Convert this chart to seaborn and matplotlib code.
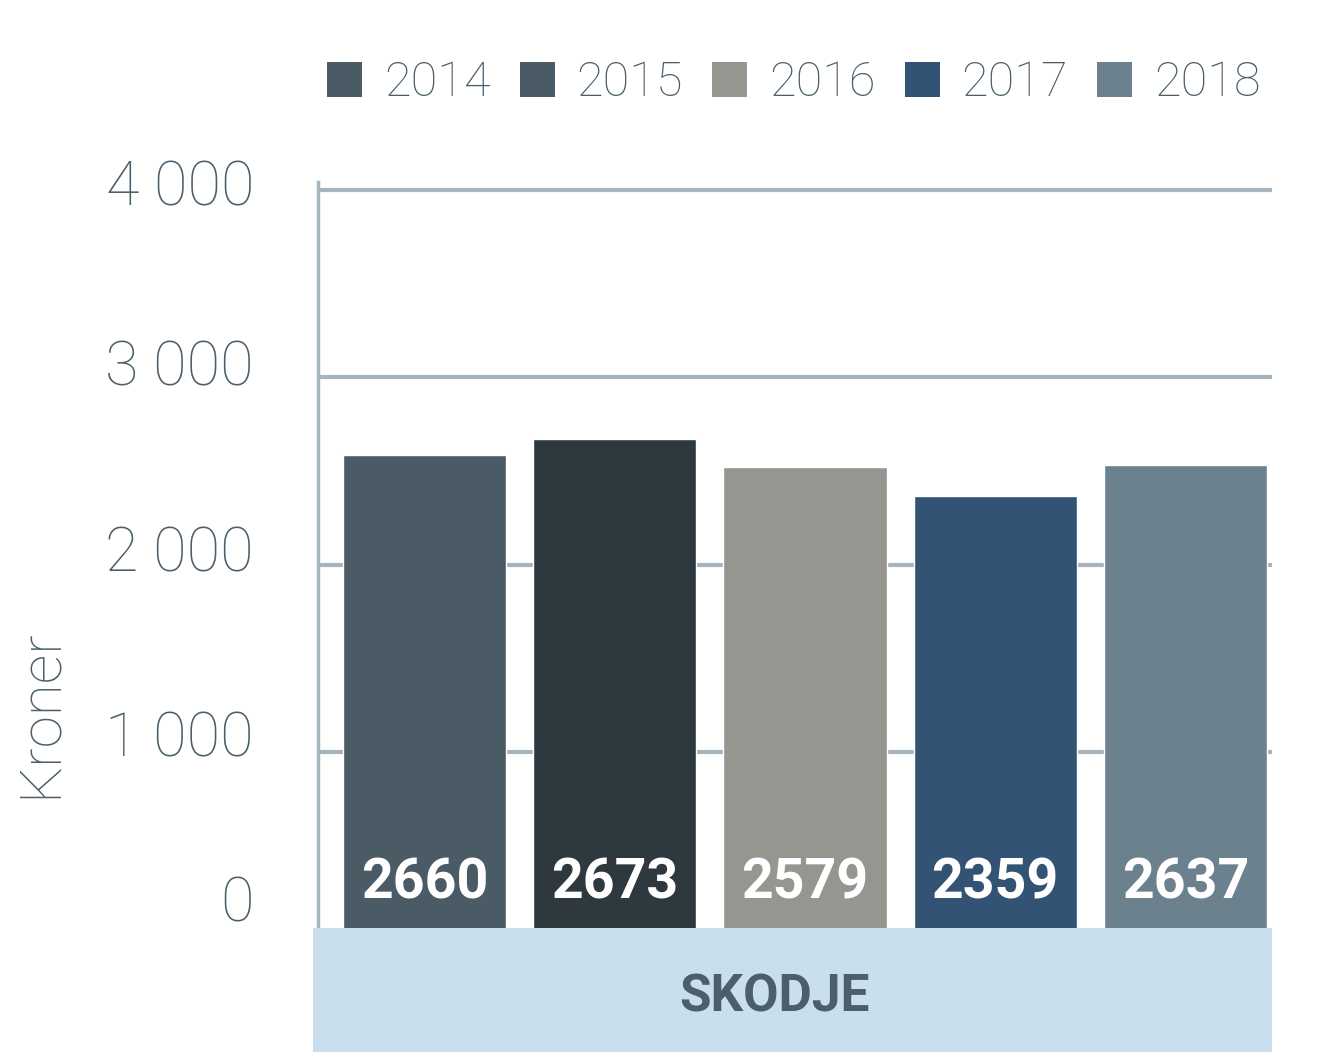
import matplotlib
matplotlib.use("Agg")
import matplotlib.pyplot as plt
import matplotlib.transforms as mtransforms
from matplotlib.patches import Patch, Rectangle
import seaborn as sns

# Data
years = ["2014", "2015", "2016", "2017", "2018"]
bar_heights = [2585, 2670, 2521, 2366, 2531]      # heights as drawn
value_labels = ["2660", "2673", "2579", "2359", "2637"]  # printed values
bar_colors = ["#4b5b66", "#2e393f", "#979590", "#325374", "#6b818d"]
legend_colors = ["#4b5b66", "#4b5b66", "#979590", "#325374", "#6b818d"]
yticks = [0, 1000, 2000, 3000, 4000]
ytick_labels = ["0", "1 000", "2 000", "3 000", "4 000"]
category = "SKODJE"

text_col = "#4b5f6b"
grid_col = "#a6b4bd"
band_col = "#c9dfed"

sns.set_theme(style="white")
plt.rcParams["font.family"] = ["Roboto", "DejaVu Sans"]

fig = plt.figure(figsize=(13.26, 10.52), dpi=100)
W, H = 1326, 1052
ax = fig.add_axes([318 / W, 113 / H, 954 / W, 757 / H])

sns.barplot(x=years, y=bar_heights, hue=years, palette=bar_colors,
            width=0.857, saturation=1, legend=False, ax=ax)

ax.set_xlim(-0.56, 4.455)
ax.set_ylim(0, 4043)
ax.set_yticks(yticks)
ax.set_yticklabels(ytick_labels, fontsize=44, fontweight="light", color=text_col)
ax.tick_params(axis="y", length=0, pad=46)
ax.set_xticks([])
ax.set_xlabel("")
ax.set_ylabel("")
ax.yaxis.grid(True, color=grid_col, linewidth=3)
ax.set_axisbelow(True)
for s in ["top", "right", "bottom"]:
    ax.spines[s].set_visible(False)
ax.spines["left"].set_color(grid_col)
ax.spines["left"].set_linewidth(2.5)

# the original sets its tick labels a little above the grid lines
label_lift_px = [40, 18, 16, 15, 8]
for lbl, dy in zip(ax.get_yticklabels(), label_lift_px):
    off = mtransforms.ScaledTranslation(0, dy / 100, fig.dpi_scale_trans)
    lbl.set_transform(lbl.get_transform() + off)

# value labels near the bar bottoms
for i, lab in enumerate(value_labels):
    ax.annotate(lab, xy=(i, 0), xytext=(0, 29.5), textcoords="offset points",
                ha="center", va="baseline", color="white",
                fontsize=40, fontweight="bold")

# category band below the plot
fig.patches.append(Rectangle((313 / W, 0), 959 / W, 124 / H,
                             transform=fig.transFigure, facecolor=band_col,
                             edgecolor="none", zorder=5))
fig.text(774 / W, 1 - 997 / H, category, ha="center", va="center",
         fontsize=37, fontweight="bold", color=text_col, zorder=6)

fig.text(40 / W, 1 - 713 / H, "Kroner", rotation=90, ha="center", va="center",
         fontsize=42, fontweight="light", color=text_col)

handles = [Patch(facecolor=c, edgecolor="none", label=y)
           for c, y in zip(legend_colors, years)]
leg = fig.legend(handles=handles, ncol=5, loc="center right",
                 bbox_to_anchor=(1280 / W, 1 - 83 / H), frameon=False,
                 fontsize=35, handlelength=0.72, handleheight=0.72,
                 handletextpad=0.45, columnspacing=0.6, borderaxespad=0)
for t in leg.get_texts():
    t.set_color(text_col)
    t.set_fontweight("light")

fig.savefig("out.png", dpi=100)
